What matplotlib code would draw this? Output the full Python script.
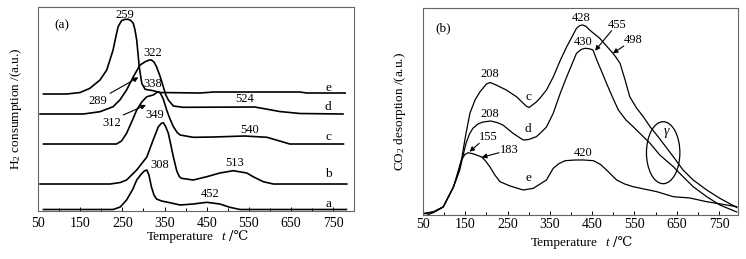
import matplotlib
matplotlib.use("Agg")
import matplotlib.pyplot as plt
from matplotlib.patches import Ellipse

plt.rcParams['font.family'] = ['Liberation Serif', 'DejaVu Serif', 'DejaVu Sans']
plt.rcParams['mathtext.fontset'] = 'custom'
plt.rcParams['mathtext.rm'] = 'Liberation Serif'
plt.rcParams['mathtext.it'] = 'Liberation Serif:italic'

# ---- panel (a): H2-TPR, curves stacked with offsets (arbitrary units) ----
tpr_a_t = [63, 228, 245, 260, 275, 284, 295, 302, 308, 313, 319, 325, 331, 343, 355, 387,
           418, 450, 481, 505, 529, 781]
tpr_a_h = [1.5, 1.5, 4, 11, 22, 31, 37, 40, 41, 36, 24, 16, 12, 10, 9, 6,
           7, 8.7, 7, 3.7, 1.5, 1.5]

tpr_b_t = [55, 221, 245, 260, 284, 308, 323, 335, 342, 347, 352, 359, 365, 371, 379, 385,
           390, 418, 450, 481, 513, 545, 560, 584, 608, 782]
tpr_b_h = [27, 27, 28.5, 31, 41, 54, 71, 84, 87.5, 88.3, 85, 77.7, 66, 54, 40, 34.5,
           32.7, 31, 34.3, 38, 40.3, 38, 34.3, 29.3, 27, 27]

tpr_c_t = [63, 236, 248, 260, 272, 284, 296, 308, 323, 330, 335, 340, 347, 355, 363, 371,
           380, 387, 418, 465, 540, 593, 647, 774]
tpr_c_h = [67, 67, 70, 77.7, 89, 101, 109, 114.3, 116, 118, 119.3, 118, 112, 101, 92,
           84.3, 78.5, 76, 73.7, 74, 75, 73.7, 67, 67]

tpr_d_t = [55, 157, 197, 228, 244, 260, 276, 292, 305, 314, 319, 325, 331, 340, 347, 353,
           359, 371, 394, 564, 623, 671, 773]
tpr_d_h = [97, 97, 99.3, 104.3, 111, 121, 134.3, 146, 149.5, 151, 151, 149, 144.3, 134,
           124.3, 116, 111, 105, 103.7, 104, 99.5, 97.5, 97]

tpr_e_t = [63, 118, 150, 173, 197, 213, 228, 235, 240, 248, 256, 264, 270, 276, 280, 284,
           290, 296, 304, 323, 339, 434, 466, 671, 687, 778]
tpr_e_h = [117, 117, 118.5, 122.7, 131, 141, 161, 175, 184.3, 190.3, 191.7, 191.7, 190.5,
           187.7, 181, 171, 144.3, 127.7, 121.7, 120.3, 118.5, 118, 119, 119, 118, 118]

# peak labels (a): text, x, y
tpr_labels = [("259", 256, 196), ("322", 322, 158), ("338", 322, 126.7), ("349", 327, 96),
              ("308", 339, 46), ("513", 517, 47.7), ("452", 458, 16.7), ("540", 552, 81),
              ("524", 539, 111.7)]
tpr_arrows = [("289", 193, 110, 221, 117.7, 288, 133.7),
              ("312", 225, 87.7, 252, 96, 306, 106)]
tpr_names = [("e", 122.7), ("d", 103.7), ("c", 74.3), ("b", 36.7), ("a", 7)]

# ---- panel (b): CO2-TPD ----
tpd_c_t = [50, 75, 98, 122, 132, 141, 151, 161, 173, 185, 200, 209, 223, 247, 271, 294,
           301, 318, 327, 342, 358, 375, 390, 413, 421, 428, 436, 444, 468, 496, 506, 516,
           528, 539, 555, 571, 587, 606, 642, 665, 689, 721, 752, 792]
tpd_c_h = [1, 3, 8, 28, 40, 55, 80, 101.7, 115, 123.3, 131, 132.5, 130, 125, 118.3, 109,
           107.5, 113, 117, 125, 138, 155, 168.3, 186.7, 189.5, 190, 188.5, 185, 176.7, 163.3,
           158, 151.7, 135, 118.3, 107, 98.3, 88.3, 78.3, 58.3, 45, 35, 25, 16.7, 7.5]

tpd_d_t = [60, 75, 98, 122, 137, 145, 152, 160, 168, 180, 192, 210, 225, 239, 263, 287,
           300, 318, 327, 342, 358, 374, 390, 413, 424, 433, 443, 452, 461, 472, 484, 498,
           512, 530, 547, 587, 610, 642, 665, 689, 721, 752, 792]
tpd_d_h = [0, 2.5, 8, 28, 45, 60, 72, 81, 86.7, 91, 93, 94, 92.5, 90, 81.7, 75, 75.5,
           78.3, 81.7, 88, 101.7, 121, 138.3, 161.7, 165.5, 166.7, 166.3, 165, 155, 144,
           131.7, 118, 105, 95, 88.3, 71.7, 60, 48.3, 38.3, 28.3, 18.3, 10, 3]

tpd_e_t = [50, 75, 98, 122, 141, 149, 157, 170, 189, 198, 208, 220, 232, 256, 287, 311,
           342, 358, 372, 386, 410, 430, 453, 470, 484, 496, 508, 527, 547, 603, 642, 681,
           721, 768, 792]
tpd_e_h = [1.5, 3.3, 8.3, 28, 55, 60.5, 62.3, 61, 58, 54, 48.3, 40, 33.3, 29, 25, 26.7,
           35, 46.7, 51.5, 54.3, 55, 55, 54.3, 50.5, 45, 40, 35, 31, 28.3, 23.3, 18.3, 17,
           13.3, 10, 8.3]

tpd_labels = [("208", 208, 141), ("208", 208, 101), ("428", 425, 196.7), ("430", 429, 173.3),
              ("420", 428, 62.3)]
tpd_arrows = [("155", 204, 77.7, 183, 71.7, 160, 63.3),
              ("183", 254, 65, 230, 62.3, 189, 57.7),
              ("455", 510, 190, 496, 184.3, 457, 164.3),
              ("498", 547, 175, 525, 169, 499, 161.7)]
tpd_names = [("c", 299, 118.3), ("d", 299, 86), ("e", 299, 36.7)]

x_major = [50, 150, 250, 350, 450, 550, 650, 750]
x_minor = [100, 200, 300, 400, 500, 600, 700]


def style_axes(ax, xmax, ymax, pad, xlab_pos):
    ax.set_xlim(50, xmax)
    ax.set_ylim(0, ymax)
    ax.set_xticks(x_major)
    ax.set_xticks(x_minor, minor=True)
    ax.set_yticks([])
    ax.tick_params(axis='x', which='major', direction='in', length=3, width=0.7,
                   labelsize=10, pad=pad)
    ax.tick_params(axis='x', which='minor', direction='in', length=2, width=0.7)
    for sp in ax.spines.values():
        sp.set_color('#666666')
        sp.set_linewidth(0.8)
    # x label written in three pieces: Temperature, italic t, /℃
    x0, x1, x2, y = xlab_pos
    ax.text(x0, y, 'Temperature', transform=ax.transAxes, ha='left', va='center',
            fontsize=9.5)
    ax.text(x1, y, 't', transform=ax.transAxes, ha='left', va='center',
            fontsize=9.5, style='italic')
    ax.text(x2, y, '/\u2103', transform=ax.transAxes, ha='left', va='center',
            fontsize=9.5, family=['DejaVu Serif', 'DejaVu Sans'])


fig = plt.figure(figsize=(7.46, 2.59), dpi=100)

ax1 = fig.add_axes([0.0509, 0.1853, 0.4236, 0.7876])
for t, h in [(tpr_a_t, tpr_a_h), (tpr_b_t, tpr_b_h), (tpr_c_t, tpr_c_h),
             (tpr_d_t, tpr_d_h), (tpr_e_t, tpr_e_h)]:
    ax1.plot(t, h, color='black', lw=1.2)
for txt, x, y in tpr_labels:
    ax1.text(x, y, txt, ha='center', va='center', fontsize=9)
for txt, tx, ty, ax_, ay_, hx, hy in tpr_arrows:
    ax1.text(tx, ty, txt, ha='center', va='center', fontsize=9)
    ax1.annotate('', xy=(hx, hy), xytext=(ax_, ay_),
                 arrowprops=dict(arrowstyle='-|>', color='black', lw=0.8,
                                 mutation_scale=7, shrinkA=0, shrinkB=0))
for name, y in tpr_names:
    ax1.text(738, y, name, ha='center', va='center', fontsize=9.5)
ax1.text(106, 186, '(a)', ha='center', va='center', fontsize=9.5)
style_axes(ax1, 799, 204, 4.5, (0.345, 0.58, 0.605, -0.125))
ax1.set_ylabel('H$_2$ consumption /(a.u.)', fontsize=9.5, labelpad=10)

ax2 = fig.add_axes([0.5670, 0.1699, 0.4223, 0.7992])
for t, h in [(tpd_c_t, tpd_c_h), (tpd_d_t, tpd_d_h), (tpd_e_t, tpd_e_h)]:
    ax2.plot(t, h, color='black', lw=0.9)
for txt, x, y in tpd_labels:
    ax2.text(x, y, txt, ha='center', va='center', fontsize=9)
for txt, tx, ty, ax_, ay_, hx, hy in tpd_arrows:
    ax2.text(tx, ty, txt, ha='center', va='center', fontsize=9)
    ax2.annotate('', xy=(hx, hy), xytext=(ax_, ay_),
                 arrowprops=dict(arrowstyle='-|>', color='black', lw=0.8,
                                 mutation_scale=7, shrinkA=0, shrinkB=0))
for name, x, y in tpd_names:
    ax2.text(x, y, name, ha='center', va='center', fontsize=9.5)
ax2.add_patch(Ellipse((618, 62.3), 79, 62, fill=False, edgecolor='black', lw=0.9))
ax2.text(626, 81.7, '$\\gamma$', ha='center', va='center', fontsize=10)
ax2.text(98, 186.7, '(b)', ha='center', va='center', fontsize=9.5)
style_axes(ax2, 795, 207, 2.5, (0.343, 0.578, 0.603, -0.135))
ax2.set_ylabel('CO$_2$ desorption /(a.u.)', fontsize=9.5, labelpad=11)

fig.savefig('out.png', dpi=100)
